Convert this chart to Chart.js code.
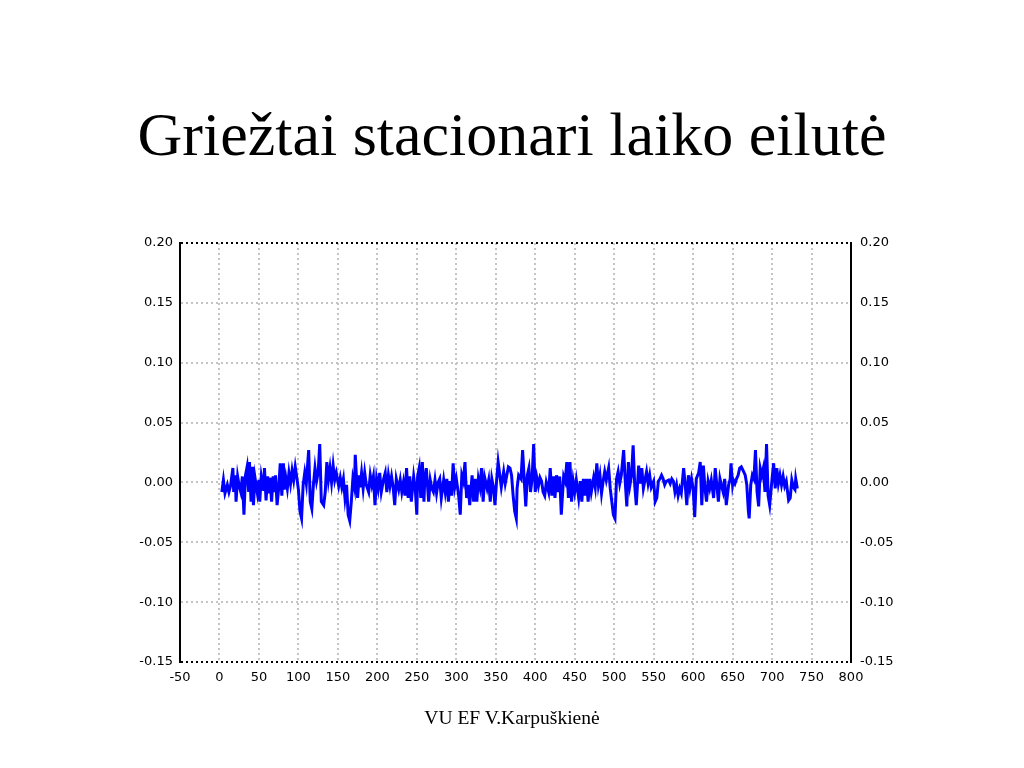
<!DOCTYPE html>
<html lang="lt">
<head>
<meta charset="UTF-8">
<title>Griežtai stacionari laiko eilutė</title>
<script src="https://cdn.jsdelivr.net/npm/chart.js"></script>
<style>
    body { margin: 0; background: #fff; }
    #wrap { position: relative; width: 1024px; height: 768px; overflow: hidden; }
    canvas { position: absolute; left: 0; top: 0; }
    .title {
        position: absolute; left: 0; width: 1024px; top: 103px; margin: 0;
        text-align: center; font-family: "Liberation Serif", "Times New Roman", serif;
        font-weight: normal; font-size: 62px; line-height: 62px; color: #000;
    }
    .foot {
        position: absolute; left: 0; width: 1024px; top: 708px;
        text-align: center; font-family: "Liberation Serif", "Times New Roman", serif;
        font-size: 19.5px; line-height: 19.5px; color: #000;
    }
</style>
</head>
<body>
<div id="wrap">
    <canvas id="chart" width="1024" height="768"></canvas>
    <h1 class="title">Griežtai stacionari laiko eilutė</h1>
    <div class="foot">VU EF V.Karpuškienė</div>
</div>
<script>
// laiko indeksai ir reikšmės (nuskaityta nuo paveikslo)
const timeIdx = [
    3, 5, 7, 10, 12, 14, 17, 18, 20, 21, 23, 25, 27, 29, 31, 33, 35, 37, 38, 40,
    42, 43, 45, 48, 50, 51, 53, 56, 57, 59, 61, 63, 64, 66, 68, 70, 71, 73, 75, 77,
    79, 81, 82, 84, 86, 88, 90, 92, 94, 96, 98, 100, 102, 104, 106, 108, 110, 111, 113, 115,
    117, 119, 121, 123, 125, 127, 129, 132, 134, 136, 138, 140, 142, 144, 146, 148, 151, 153, 155, 157,
    159, 161, 163, 165, 167, 169, 171, 172, 175, 177, 178, 180, 182, 184, 186, 189, 191, 193, 195, 197,
    199, 201, 203, 205, 208, 210, 212, 214, 216, 218, 220, 222, 224, 227, 229, 231, 233, 235, 237, 239,
    241, 243, 246, 248, 250, 251, 253, 255, 257, 259, 260, 262, 265, 267, 269, 271, 273, 275, 277, 279,
    281, 284, 286, 288, 290, 292, 294, 296, 298, 300, 303, 305, 307, 309, 311, 313, 315, 317, 320, 322,
    324, 326, 328, 330, 332, 334, 336, 339, 341, 343, 345, 347, 349, 351, 353, 357, 360, 362, 364, 366,
    368, 370, 372, 374, 376, 377, 379, 382, 384, 386, 388, 390, 392, 394, 396, 398, 400, 402, 404, 406,
    408, 410, 412, 414, 417, 419, 421, 423, 425, 427, 429, 431, 433, 436, 438, 440, 442, 444, 446, 448,
    450, 452, 455, 457, 459, 461, 463, 465, 467, 469, 471, 474, 476, 478, 480, 482, 484, 486, 488, 490,
    493, 495, 497, 499, 501, 503, 505, 507, 509, 512, 514, 516, 518, 520, 522, 524, 526, 528, 531, 533,
    535, 537, 541, 543, 545, 547, 550, 552, 554, 556, 558, 560, 562, 564, 566, 569, 571, 573, 575, 577,
    579, 581, 583, 585, 588, 590, 592, 594, 596, 598, 600, 602, 604, 607, 609, 611, 613, 615, 617, 619,
    621, 623, 626, 628, 630, 632, 634, 636, 638, 640, 642, 645, 647, 648, 650, 651, 653, 655, 657, 659,
    661, 664, 666, 668, 670, 671, 673, 675, 677, 679, 681, 683, 685, 687, 689, 691, 693, 695, 697, 700,
    702, 704, 706, 708, 710, 712, 714, 716, 718, 721, 723, 725, 727, 729, 730, 732
];
const values = [
    -0.008, 0.002, -0.009, -0.002, -0.008, -0.003, 0.012, -0.008, 0.006, -0.016, 0.005, -0.003, -0.008, 0.005, -0.027, 0.006, 0.013, -0.008, 0.017, -0.016,
    0.013, -0.019, 0.004, -0.009, 0.002, -0.016, 0.005, -0.007, 0.012, -0.015, 0.005, -0.008, 0.004, -0.016, 0.005, -0.008, 0.006, -0.019, -0.005, 0.016,
    -0.011, 0.016, -0.006, 0.004, -0.005, 0.008, -0.001, 0.010, 0.002, 0.013, 0.004, -0.006, -0.024, -0.030, -0.002, 0.008, -0.001, 0.009, 0.027, -0.016,
    -0.022, -0.002, 0.012, 0.001, 0.008, 0.032, -0.016, -0.019, -0.008, 0.017, 0.002, 0.012, 0.000, 0.014, 0.002, 0.008, -0.003, 0.004, -0.004, 0.003,
    -0.013, -0.002, -0.027, -0.032, -0.016, 0.003, -0.004, 0.023, -0.013, 0.006, -0.004, 0.008, -0.005, 0.008, -0.002, -0.008, 0.006, -0.002, 0.005, -0.019,
    0.003, -0.005, 0.008, -0.008, 0.003, 0.008, -0.008, 0.006, -0.003, 0.005, -0.004, -0.019, 0.003, -0.006, 0.002, -0.008, 0.000, -0.011, 0.012, -0.013,
    0.005, -0.016, 0.005, -0.005, -0.027, 0.005, 0.012, -0.013, 0.017, -0.016, 0.001, 0.012, -0.016, 0.002, -0.005, -0.008, 0.002, -0.009, 0.000, 0.003,
    -0.013, 0.002, -0.008, 0.003, -0.016, 0.001, -0.011, 0.016, -0.004, 0.003, -0.011, -0.027, 0.006, 0.001, 0.017, -0.013, -0.002, -0.019, 0.006, -0.016,
    0.003, -0.016, 0.003, -0.004, 0.012, -0.016, 0.004, -0.005, 0.002, -0.016, 0.003, -0.004, -0.019, 0.001, 0.017, -0.004, 0.009, -0.001, 0.006, 0.013,
    0.012, 0.006, -0.011, -0.024, -0.030, -0.005, 0.006, 0.003, 0.027, 0.003, -0.020, 0.006, 0.012, -0.008, 0.003, 0.032, -0.008, 0.004, -0.003, 0.004,
    0.001, -0.008, -0.011, 0.000, -0.008, 0.012, -0.011, 0.005, -0.013, 0.006, -0.008, 0.005, -0.027, 0.005, 0.001, 0.017, -0.013, 0.017, -0.016, 0.001,
    -0.008, 0.002, -0.013, 0.001, -0.016, 0.003, -0.011, 0.003, -0.016, 0.003, -0.008, 0.004, -0.004, 0.016, -0.002, 0.006, -0.009, 0.001, 0.009, 0.002,
    0.012, -0.005, -0.016, -0.027, -0.030, 0.003, 0.009, -0.001, 0.006, 0.027, 0.001, -0.020, 0.017, -0.002, 0.006, 0.031, -0.002, -0.019, 0.014, -0.001,
    0.012, -0.005, 0.009, -0.001, 0.006, -0.004, 0.001, -0.016, -0.013, 0.001, 0.003, 0.006, 0.003, -0.002, 0.001, 0.002, -0.001, 0.003, 0.001, -0.008,
    -0.002, -0.011, -0.005, -0.009, 0.012, -0.002, -0.019, 0.006, -0.005, 0.003, -0.005, -0.029, 0.003, 0.008, 0.017, -0.019, 0.014, -0.005, -0.016, 0.001,
    -0.005, 0.002, -0.013, 0.012, -0.002, -0.016, 0.003, -0.003, -0.008, 0.003, -0.019, -0.002, 0.003, 0.016, -0.002, 0.002, -0.001, 0.003, 0.006, 0.012,
    0.013, 0.009, 0.006, -0.002, -0.024, -0.030, -0.002, 0.006, 0.003, 0.027, -0.008, -0.020, 0.012, 0.006, 0.012, -0.008, 0.032, -0.011, -0.019, 0.003,
    0.016, -0.005, 0.012, -0.001, 0.006, -0.002, 0.005, -0.003, 0.001, -0.015, -0.013, 0.002, -0.004, -0.006, 0.003, -0.005
];

const X_MIN = -50, X_MAX = 800, X_STEP = 50;
const Y_MIN = -0.15, Y_MAX = 0.20, Y_STEP = 0.05;

const tickFont = { family: 'DejaVu Sans, Arial, sans-serif', size: 13 };
const isEdge = v => Math.abs(v - Y_MAX) < 1e-9 || Math.abs(v - Y_MIN) < 1e-9;

const points = timeIdx.map((t, i) => ({ x: t, y: values[i] }));

const ctx = document.getElementById('chart').getContext('2d');
new Chart(ctx, {
    type: 'line',
    data: {
        datasets: [{
            data: points,
            borderColor: '#0000ff',
            borderWidth: 3,
            pointRadius: 0,
            tension: 0,
            fill: false
        }]
    },
    options: {
        responsive: false,
        animation: false,
        plugins: { legend: { display: false }, tooltip: { enabled: false } },
        layout: { padding: { top: 243, left: 0, right: 0, bottom: 0 } },
        scales: {
            x: {
                type: 'linear',
                min: X_MIN, max: X_MAX,
                ticks: { stepSize: X_STEP, color: '#000', font: tickFont, padding: 8, maxRotation: 0, autoSkip: false },
                grid: {
                    color: c => (c.tick && (c.tick.value === X_MIN || c.tick.value === X_MAX)) ? 'rgba(0,0,0,0)' : '#c4c4c4',
                    lineWidth: 2,
                    drawTicks: false
                },
                border: { display: false, dash: [2, 3] },
                afterFit: s => { s.height = 106; }
            },
            y: {
                position: 'left',
                min: Y_MIN, max: Y_MAX,
                ticks: { stepSize: Y_STEP, color: '#000', font: tickFont, padding: 7, callback: v => v.toFixed(2) },
                grid: {
                    color: c => (c.tick && isEdge(c.tick.value)) ? '#000' : '#c4c4c4',
                    lineWidth: 2,
                    drawTicks: false
                },
                border: { display: true, color: '#000', width: 2, dash: [2, 3] },
                afterFit: s => { s.width = 180; }
            },
            y2: {
                position: 'right',
                min: Y_MIN, max: Y_MAX,
                ticks: { stepSize: Y_STEP, color: '#000', font: tickFont, padding: 9, callback: v => v.toFixed(2) },
                grid: { drawOnChartArea: false, drawTicks: false },
                border: { display: true, color: '#000', width: 2 },
                afterFit: s => { s.width = 173; }
            }
        }
    }
});
</script>
</body>
</html>
